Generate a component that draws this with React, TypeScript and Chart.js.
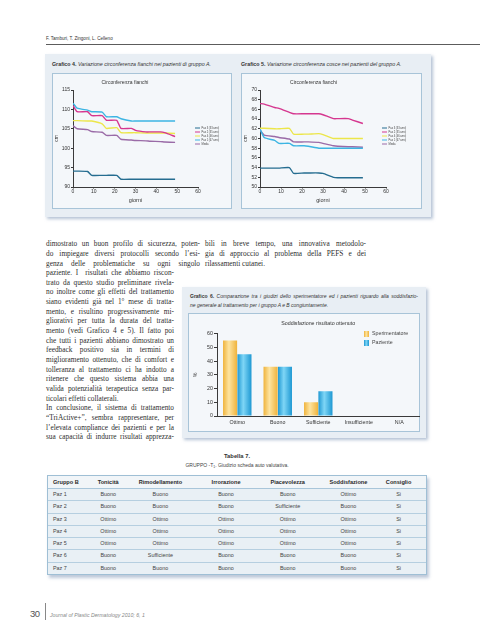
import React, { useEffect, useRef } from "react";
import { Chart, registerables } from "chart.js";

Chart.register(...registerables);

const SANS = '"Liberation Sans", Arial, Helvetica, sans-serif';
const SERIF = '"Liberation Serif", "Times New Roman", serif';
Chart.defaults.font.family = SANS;

// ---------- Grafico 4 / 5 data ----------
const days = [0, 2, 7, 9, 14, 16, 21, 23, 28, 30, 35, 37, 42, 44, 49];
const patientLabels = ["Paz 3 (33 anni)", "Paz 2 (35 anni)", "Paz 4 (46 anni)", "Paz 1 (67 anni)", "Media"];

const hipsPaz3 = [94.1, 94.1, 94.0, 93.0, 93.0, 93.0, 93.0, 92.0, 92.0, 92.0, 92.0, 92.0, 92.0, 92.0, 92.0];
const hipsPaz2 = [111.0, 109.4, 109.4, 108.4, 108.4, 107.2, 107.2, 105.1, 105.1, 104.6, 104.2, 104.2, 104.2, 104.0, 103.0];
const hipsPaz4 = [107.1, 107.1, 107.0, 107.0, 106.3, 105.1, 105.3, 104.0, 104.0, 104.0, 103.9, 103.9, 103.9, 103.9, 103.8];
const hipsPaz1 = [111.6, 110.3, 109.8, 109.4, 109.3, 108.1, 108.1, 107.6, 107.0, 107.0, 107.0, 107.0, 107.0, 107.0, 107.0];
const hipsMedia = [105.8, 105.0, 104.8, 104.3, 104.1, 103.3, 103.3, 102.3, 102.1, 102.0, 101.9, 101.8, 101.7, 101.6, 101.5];

const thighsPaz3 = [53.9, 53.9, 53.9, 53.9, 54.0, 52.8, 52.9, 52.9, 52.9, 52.8, 52.0, 51.9, 51.9, 51.9, 51.9];
const thighsPaz2 = [67.2, 67.1, 66.4, 66.2, 65.4, 65.1, 65.1, 65.1, 65.1, 64.9, 64.1, 64.1, 64.1, 63.8, 63.1];
const thighsPaz4 = [62.1, 62.1, 62.0, 62.0, 62.1, 60.9, 60.9, 60.9, 61.0, 60.8, 60.0, 60.0, 60.0, 60.0, 60.0];
const thighsPaz1 = [62.0, 60.2, 59.6, 59.0, 59.0, 58.5, 58.5, 58.4, 58.0, 58.0, 58.0, 58.0, 58.0, 58.0, 58.0];
const thighsMedia = [61.7, 60.7, 60.4, 60.2, 59.9, 59.3, 59.3, 59.3, 59.2, 59.0, 58.5, 58.4, 58.3, 58.3, 58.2];

const xTicksMin = 0;
const xTicksMax = 60;
const xTicksStep = 10;

// ---------- Grafico 6 data ----------
const ratingCategories = ["Ottimo", "Buono", "Sufficiente", "Insufficiente", "N/A"];
const sperimentatoreValues = [55, 36, 10, 0, 0];
const pazienteValues = [45, 36, 18, 0, 0];

// ---------- Tabella 7 data ----------
const tableHeaders = ["Gruppo B", "Tonicità", "Rimodellamento", "Irrorazione", "Piacevolezza", "Soddisfazione", "Consiglio"];
const tablePatients = ["Paz 1", "Paz 2", "Paz 3", "Paz 4", "Paz 5", "Paz 6", "Paz 7"];
const tonicita = ["Buono", "Buono", "Ottimo", "Ottimo", "Ottimo", "Buono", "Buono"];
const rimodellamento = ["Buono", "Buono", "Ottimo", "Ottimo", "Ottimo", "Sufficiente", "Buono"];
const irrorazione = ["Buono", "Buono", "Ottimo", "Ottimo", "Ottimo", "Buono", "Buono"];
const piacevolezza = ["Buono", "Sufficiente", "Ottimo", "Ottimo", "Ottimo", "Buono", "Buono"];
const soddisfazione = ["Ottimo", "Buono", "Ottimo", "Ottimo", "Ottimo", "Buono", "Buono"];
const consiglio = ["Si", "Si", "Si", "Si", "Si", "Si", "Si"];

// ---------- Body text ----------
const leftColumnLines = [
  "dimostrato un buon profilo di sicurezza, poten-",
  "do impiegare diversi protocolli secondo l’esi-",
  "genza delle problematiche su ogni singolo",
  "paziente. I  risultati che abbiamo riscon-",
  "trato da questo studio preliminare rivela-",
  "no inoltre come gli effetti del trattamento",
  "siano evidenti già nel 1° mese di tratta-",
  "mento, e risultino progressivamente mi-",
  "gliorativi per tutta la durata del tratta-",
  "mento (vedi Grafico 4 e 5). Il fatto poi",
  "che tutti i pazienti abbiano dimostrato un",
  "feedback positivo sia in termini di",
  "miglioramento ottenuto, che di comfort e",
  "tolleranza al trattamento ci ha indotto a",
  "ritenere che questo sistema abbia una",
  "valida potenzialità terapeutica senza par-",
  "ticolari effetti collaterali.",
  "In conclusione, il sistema di trattamento",
  "“TriActive+”, sembra rappresentare, per",
  "l’elevata compliance dei pazienti e per la",
  "sua capacità di indurre risultati apprezza-",
];
const leftParagraphEnds = [16];
const rightColumnLines = [
  "bili in breve tempo, una innovativa metodolo-",
  "gia di approccio al problema della PEFS e dei",
  "rilassamenti cutanei.",
];

// ---------- styles ----------
const lineColors = ["#256d90", "#d5378f", "#ece64a", "#3cb5e3", "#9a6ba7"];
const axisColor = "#3a3a3a";
const textColor = "#333";

const insideLegend = {
  id: "insideLegend",
  afterDraw(chart: any, _args: any, opts: any) {
    if (!opts || !opts.enabled) return;
    const ctx = chart.ctx;
    ctx.save();
    ctx.font = `${opts.fontSize}px ${SANS}`;
    ctx.textBaseline = "middle";
    ctx.textAlign = "left";
    chart.data.datasets.forEach((ds: any, i: number) => {
      const y = opts.y + i * opts.step;
      if (opts.kind === "line") {
        ctx.strokeStyle = ds.borderColor;
        ctx.lineWidth = opts.lineWidth;
        ctx.beginPath();
        ctx.moveTo(opts.x, y);
        ctx.lineTo(opts.x + opts.swatch, y);
        ctx.stroke();
      } else {
        const g = ctx.createLinearGradient(opts.x, 0, opts.x + opts.swatch, 0);
        g.addColorStop(0, ds.legendEdge);
        g.addColorStop(0.45, ds.legendLight);
        g.addColorStop(1, ds.legendEdge);
        ctx.fillStyle = g;
        ctx.fillRect(opts.x, y - opts.boxH / 2, opts.swatch, opts.boxH);
      }
      ctx.fillStyle = opts.color;
      ctx.fillText(ds.label, opts.x + opts.swatch + opts.gap, y);
    });
    ctx.restore();
  },
};

function lineConfig(series: number[][], yMin: number, yMax: number, yStep: number, padRight: number, yWidth: number, legendX: number): any {
  return {
    type: "line",
    data: {
      datasets: series.map((vals, i) => ({
        label: patientLabels[i],
        data: days.map((d, j) => ({ x: d, y: vals[j] })),
        borderColor: lineColors[i],
        backgroundColor: lineColors[i],
        borderWidth: 1.4,
        pointRadius: 0,
        tension: 0.15,
        fill: false,
      })),
    },
    options: {
      responsive: false,
      animation: false,
      devicePixelRatio: 1,
      layout: { padding: { left: 0, right: padRight, top: 0, bottom: 0 } },
      plugins: {
        legend: { display: false },
        tooltip: { enabled: false },
        title: {
          display: true,
          text: "Circonferenza fianchi",
          color: textColor,
          font: { size: 5, weight: "normal" },
          padding: { top: 6.5, bottom: 4.5 },
        },
        insideLegend: {
          enabled: true,
          kind: "line",
          x: legendX,
          y: 55,
          step: 4,
          swatch: 5,
          gap: 1.5,
          lineWidth: 1,
          fontSize: 2.6,
          color: "#444",
        },
      },
      scales: {
        x: {
          type: "linear",
          min: xTicksMin,
          max: xTicksMax,
          ticks: { stepSize: xTicksStep, color: textColor, font: { size: 5 }, padding: 0, maxRotation: 0 },
          grid: { drawOnChartArea: false, tickLength: 1.5, color: axisColor },
          border: { color: axisColor, width: 1 },
          title: { display: true, text: "giorni", color: textColor, font: { size: 5.5 }, padding: { top: 2, bottom: 5.7 } },
          afterFit: (s: any) => {
            s.height = 22;
          },
        },
        y: {
          min: yMin,
          max: yMax,
          ticks: { stepSize: yStep, color: textColor, font: { size: 5 }, padding: 1 },
          grid: { drawOnChartArea: false, tickLength: 2, color: axisColor },
          border: { color: axisColor, width: 1 },
          title: { display: true, text: "cm", color: textColor, font: { size: 5 }, padding: { top: 1.7, bottom: 0 } },
          afterFit: (s: any) => {
            s.width = yWidth;
          },
        },
      },
    },
    plugins: [insideLegend],
  };
}

const CAT_PCT = 0.71;
const BAR_PCT = 0.98;

function barGradient(edge: string, light: string, side: number) {
  return (c: any) => {
    const chart = c.chart;
    const xs = chart.scales && chart.scales.x;
    if (c.type !== "data" || !xs || !chart.chartArea) return edge;
    const n = chart.data.labels.length;
    const cat = xs.width / n;
    const slot = (cat * CAT_PCT) / 2;
    const center = xs.getPixelForValue(c.dataIndex);
    const left = side === 0 ? center - slot : center;
    const g = chart.ctx.createLinearGradient(left, 0, left + slot, 0);
    g.addColorStop(0, edge);
    g.addColorStop(0.42, light);
    g.addColorStop(1, edge);
    return g;
  };
}

function barConfig(): any {
  return {
    type: "bar",
    data: {
      labels: ratingCategories,
      datasets: [
        {
          label: "Sperimentatore",
          data: sperimentatoreValues,
          backgroundColor: barGradient("#efb23a", "#fde4a0", 0),
          legendEdge: "#efb23a",
          legendLight: "#fde4a0",
          borderWidth: 0,
          categoryPercentage: CAT_PCT,
          barPercentage: BAR_PCT,
        },
        {
          label: "Paziente",
          data: pazienteValues,
          backgroundColor: barGradient("#1c97d2", "#7fd6f6", 1),
          legendEdge: "#1c97d2",
          legendLight: "#7fd6f6",
          borderWidth: 0,
          categoryPercentage: CAT_PCT,
          barPercentage: BAR_PCT,
        },
      ],
    },
    options: {
      responsive: false,
      animation: false,
      devicePixelRatio: 1,
      layout: { padding: { left: 0, right: 1.5, top: 0, bottom: 0 } },
      plugins: {
        legend: { display: false },
        tooltip: { enabled: false },
        title: {
          display: true,
          fullSize: false,
          text: "Soddisfazione risultato ottenuto",
          color: textColor,
          font: { size: 5.3, weight: "normal" },
          padding: { top: 7.7, bottom: 6.7 },
        },
        insideLegend: {
          enabled: true,
          kind: "box",
          x: 176,
          y: 21,
          step: 9,
          swatch: 5,
          boxH: 6,
          gap: 3,
          fontSize: 5.3,
          color: "#444",
        },
      },
      scales: {
        x: {
          ticks: { color: textColor, font: { size: 5.3 }, padding: 3, maxRotation: 0, autoSkip: false },
          grid: { drawOnChartArea: false, drawTicks: false, color: axisColor },
          border: { color: axisColor, width: 1 },
          afterFit: (s: any) => {
            s.height = 16;
          },
        },
        y: {
          min: 0,
          max: 60,
          ticks: { stepSize: 10, color: textColor, font: { size: 5.3 }, padding: 1 },
          grid: { drawOnChartArea: false, tickLength: 3, color: axisColor },
          border: { color: axisColor, width: 1 },
          title: { display: true, text: "%", color: textColor, font: { size: 5.3 }, padding: { top: 4, bottom: 0 } },
          afterFit: (s: any) => {
            s.width = 29;
          },
        },
      },
    },
    plugins: [insideLegend],
  };
}

function ChartCanvas({ left, top, width, height, make }: { left: number; top: number; width: number; height: number; make: () => any }) {
  const ref = useRef<HTMLCanvasElement>(null);
  useEffect(() => {
    const chart = new Chart(ref.current as HTMLCanvasElement, make());
    return () => chart.destroy();
  }, []);
  return (
    <canvas
      ref={ref}
      width={width}
      height={height}
      style={{ position: "absolute", left, top, width, height, display: "block" }}
    />
  );
}

const abs = (left: number, top: number, width?: number, height?: number): React.CSSProperties => ({
  position: "absolute",
  left,
  top,
  width,
  height,
});

const PANEL_BG = "#e8eef4";
const BOX_BG = "#f4f7fa";
const BOX_BORDER = "#a8c4d8";
const PANEL_SHADOW = "2px 2px 3px rgba(120,145,180,0.55)";

function TextLine({ text, left, top, width, justify }: { text: string; left: number; top: number; width: number; justify: boolean }) {
  return (
    <div
      style={{
        ...abs(left, top, width, 9.65),
        fontFamily: SERIF,
        fontSize: 7.3,
        lineHeight: "9.65px",
        color: "#2e2e2e",
        whiteSpace: "pre",
        textAlign: justify ? "justify" : "left",
        textAlignLast: justify ? "justify" : "left",
      }}
    >
      {text}
    </div>
  );
}

const colWidths = [38, 45, 60, 72, 52, 70, 43];

function Table7() {
  const columns = [tablePatients, tonicita, rimodellamento, irrorazione, piacevolezza, soddisfazione, consiglio];
  const cell = (i: number, content: string, bold: boolean, h: number) => (
    <div
      key={i}
      style={{
        width: colWidths[i],
        height: h,
        lineHeight: `${h}px`,
        textAlign: i === 0 ? "left" : "center",
        paddingLeft: i === 0 ? 5 : 0,
        paddingRight: i === 6 ? 12 : 0,
        boxSizing: "border-box",
        fontWeight: bold ? "bold" : "normal",
        fontSize: bold ? 5.6 : 5.4,
        color: bold ? "#2a2a2a" : "#444",
        whiteSpace: "nowrap",
      }}
    >
      {content}
    </div>
  );
  return (
    <div
      style={{
        ...abs(47, 475, 380),
        border: "1px solid #9fbfd5",
        boxSizing: "border-box",
        boxShadow: "2px 3px 3px rgba(110,135,170,0.45)",
        fontFamily: SANS,
        background: "#e9f0f5",
      }}
    >
      <div style={{ display: "flex", background: "#f1f5f8", borderBottom: "1px solid #a9c6da" }}>
        {tableHeaders.map((h, i) => cell(i, h, true, 12))}
      </div>
      {tablePatients.map((_, r) => (
        <div
          key={r}
          style={{
            display: "flex",
            borderBottom: r < tablePatients.length - 1 ? "1px solid #b6cfe0" : "none",
          }}
        >
          {columns.map((col, i) => cell(i, col[r], false, 11.3))}
        </div>
      ))}
    </div>
  );
}

export default function App() {
  return (
    <div style={{ ...abs(0, 0, 480, 640), background: "#fff", overflow: "hidden", fontFamily: SANS }}>
      {/* running header */}
      <div style={{ ...abs(46, 36.3, 200, 6), fontSize: 4.6, lineHeight: "6px", color: "#333" }}>
        F. Tamburi, T. Zingoni, L. Celleno
      </div>
      <div style={{ ...abs(46, 43.5, 434, 1.5), background: "#5c5c5c" }} />

      {/* Grafico 4 & 5 panel */}
      <div style={{ ...abs(45, 54, 386, 163), background: PANEL_BG, boxShadow: PANEL_SHADOW }} />
      <div style={{ ...abs(52, 61, 185, 6), fontSize: 5.3, lineHeight: "6px", color: "#333", whiteSpace: "nowrap" }}>
        <b>Grafico 4.</b> <i>Variazione circonferenza fianchi nei pazienti di gruppo A.</i>
      </div>
      <div style={{ ...abs(241, 61, 185, 6), fontSize: 5.3, lineHeight: "6px", color: "#333", whiteSpace: "nowrap" }}>
        <b>Grafico 5.</b> <i>Variazione circonferenza cosce nei pazienti del gruppo A.</i>
      </div>
      <div style={{ ...abs(52, 73, 180, 136), background: BOX_BG, border: `1px solid ${BOX_BORDER}`, boxSizing: "border-box" }} />
      <div style={{ ...abs(241, 73, 181, 136), background: BOX_BG, border: `1px solid ${BOX_BORDER}`, boxSizing: "border-box" }} />
      <ChartCanvas
        left={52}
        top={73}
        width={180}
        height={136}
        make={() => lineConfig([hipsPaz3, hipsPaz2, hipsPaz4, hipsPaz1, hipsMedia], 90, 115, 5, 34, 21, 143)}
      />
      <ChartCanvas
        left={241}
        top={73}
        width={181}
        height={136}
        make={() => lineConfig([thighsPaz3, thighsPaz2, thighsPaz4, thighsPaz1, thighsMedia], 50, 70, 2, 36, 19, 141)}
      />

      {/* body text */}
      {leftColumnLines.map((t, i) => (
        <TextLine
          key={"l" + i}
          text={t}
          left={46}
          top={239.2 + i * 9.65}
          width={i < 3 ? 154 : 128}
          justify={!leftParagraphEnds.includes(i)}
        />
      ))}
      {rightColumnLines.map((t, i) => (
        <TextLine key={"r" + i} text={t} left={205} top={239.2 + i * 9.65} width={161} justify={i < 2} />
      ))}

      {/* Grafico 6 panel */}
      <div style={{ ...abs(182, 287, 244, 151), background: PANEL_BG, boxShadow: PANEL_SHADOW }} />
      <div
        style={{
          ...abs(190, 292.5, 228, 7),
          fontSize: 5,
          lineHeight: "7px",
          color: "#333",
          whiteSpace: "nowrap",
          textAlign: "justify",
          textAlignLast: "justify",
        }}
      >
        <b>Grafico 6.</b> <i>Comparazione tra i giudizi dello sperimentatore ed i pazienti riguardo alla soddisfazio-</i>
      </div>
      <div style={{ ...abs(190, 301.5, 228, 7), fontSize: 5, lineHeight: "7px", color: "#333", whiteSpace: "nowrap" }}>
        <i>ne generale al trattamento per i gruppo A e B congiuntamente.</i>
      </div>
      <div style={{ ...abs(188, 313, 232, 119), background: BOX_BG, border: `1px solid ${BOX_BORDER}`, boxSizing: "border-box" }} />
      <ChartCanvas left={188} top={313} width={233} height={119} make={barConfig} />

      {/* Tabella 7 */}
      <div style={{ ...abs(137, 452.5, 200, 7), fontSize: 5.8, lineHeight: "7px", fontWeight: "bold", textAlign: "center", color: "#333" }}>
        Tabella 7.
      </div>
      <div style={{ ...abs(117, 462, 240, 6), fontSize: 5, lineHeight: "6px", textAlign: "center", color: "#444" }}>
        GRUPPO -T<sub style={{ fontSize: 3.5, verticalAlign: "-1px" }}>1</sub>. Giudizio scheda auto valutativa.
      </div>
      <Table7 />

      {/* footer */}
      <div style={{ ...abs(30, 608, 14, 11), fontSize: 9.5, lineHeight: "11px", color: "#555", letterSpacing: "-0.6px" }}>30</div>
      <div style={{ ...abs(45, 603, 0.8, 17), background: "#888" }} />
      <div style={{ ...abs(50, 612, 160, 6), fontSize: 5.2, lineHeight: "6px", color: "#888", fontStyle: "italic" }}>
        Journal of Plastic Dermatology 2010; 6, 1
      </div>
    </div>
  );
}
